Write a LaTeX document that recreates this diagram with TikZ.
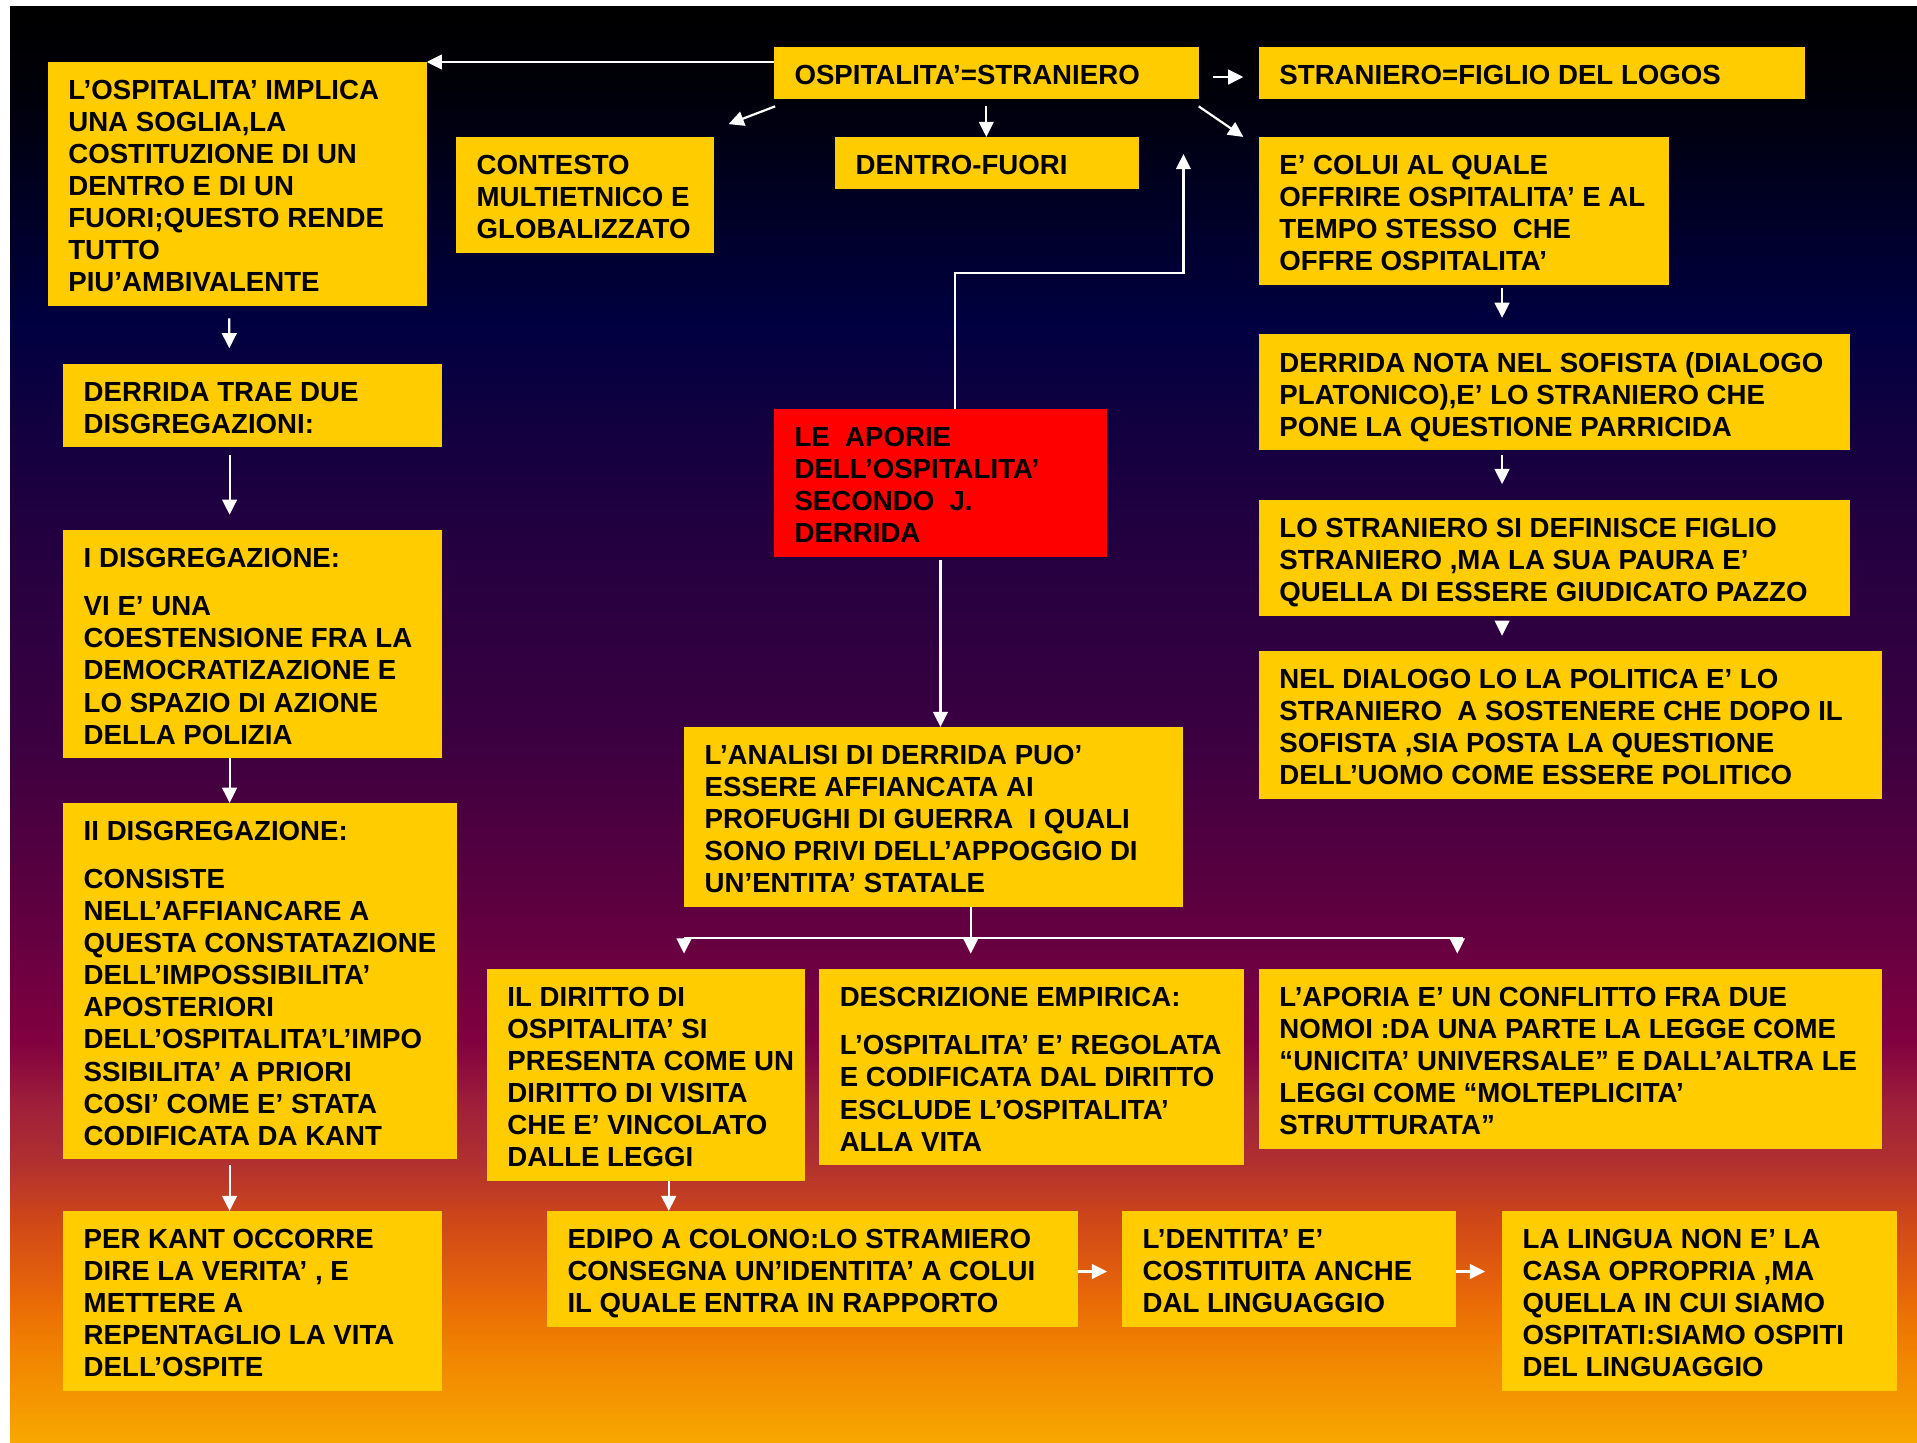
\documentclass[tikz,border=0pt]{standalone}
\usepackage{fontspec}
\setmainfont{Liberation Sans}
\usetikzlibrary{arrows.meta}
\definecolor{boxy}{HTML}{FFCC00}
\definecolor{boxr}{HTML}{FF0000}
\definecolor{g0}{HTML}{000000}
\definecolor{g1}{HTML}{000008}
\definecolor{g2}{HTML}{000040}
\definecolor{g3}{HTML}{200040}
\definecolor{g4}{HTML}{3A0040}
\definecolor{g5}{HTML}{600040}
\definecolor{g6}{HTML}{800040}
\definecolor{g7}{HTML}{A0203A}
\definecolor{g8}{HTML}{B03030}
\definecolor{g9}{HTML}{D04818}
\definecolor{g10}{HTML}{E86808}
\definecolor{g11}{HTML}{F08000}
\definecolor{g12}{HTML}{F8A800}
\tikzset{
  ybox/.style={fill=boxy, draw=none, anchor=north west, inner sep=0pt, outer sep=0pt},
  txt/.style={anchor=north west, inner sep=0pt, align=left, text=black,
    font=\bfseries\fontsize{11.3}{13.1}\selectfont},
  arr/.style={draw=white, line width=0.9pt, -{Triangle[length=6.2pt,width=6pt]}},
  wline/.style={draw=white, line width=0.9pt},
}
\newcommand\bx[6][boxy]{%
  \node[ybox, fill=#1, minimum width={(#5-#3)*0.5pt}, minimum height={(#6-#4)*0.5pt}] (#2) at (#3,#4) {};}
\newcommand\tx[2]{\node[txt] (#1-t) at ([shift={(16.5,14.5)}]#1.north west) {#2};}
\newcommand\seg[4]{\shade[top color=#3, bottom color=#4] (8.2,#1) rectangle (1568,#2);}
\begin{document}
\begin{tikzpicture}[x=0.5pt,y=-0.5pt]
\useasboundingbox (0,0) rectangle (1568,1180);
\fill[white] (0,0) rectangle (1568,1180);
% background gradient
\seg{5.7}{70.5}{g0}{g1}
\seg{70}{263.5}{g1}{g2}
\seg{263}{420.5}{g2}{g3}
\seg{420}{600.5}{g3}{g4}
\seg{600}{750.5}{g4}{g5}
\seg{750}{850.5}{g5}{g6}
\seg{850}{905.5}{g6}{g7}
\seg{905}{950.5}{g7}{g8}
\seg{950}{1000.5}{g8}{g9}
\seg{1000}{1060.5}{g9}{g10}
\seg{1060}{1100.5}{g10}{g11}
\seg{1100}{1180}{g11}{g12}

% boxes
\bx{ospstr}{633}{38.4}{980.5}{81}
\bx{figlio}{1029.6}{38.4}{1476}{81}
\bx{implica}{39}{50.7}{349}{250}
\bx{contesto}{373}{112}{584}{206.7}
\bx{dentro}{683}{112}{931.5}{154.5}
\bx{colui}{1029.6}{112}{1365}{232.9}
\bx{trae}{51.6}{297.7}{361.6}{366}
\bx[boxr]{aporie}{633}{334.8}{905.5}{455.3}
\bx{nota}{1029.6}{273}{1513}{367.8}
\bx{definisce}{1029.6}{409}{1513}{503.6}
\bx{disgrega}{51.6}{433.5}{361.6}{619.7}
\bx{dialogo}{1029.6}{532.5}{1539}{653.3}
\bx{analisi}{559.5}{594.6}{968}{741.6}
\bx{disgregb}{51.6}{656.7}{373.6}{948}
\bx{diritto}{398.2}{792.6}{658.1}{965.7}
\bx{descr}{670}{792.6}{1017.6}{952.6}
\bx{aporia}{1029.6}{792.6}{1539}{939.5}
\bx{kant}{51.6}{990.5}{361.6}{1137.5}
\bx{edipo}{447.3}{990.5}{881.4}{1085}
\bx{dentita}{917.7}{990.5}{1190.9}{1085}
\bx{lingua}{1228.6}{990.5}{1551.6}{1137.5}

% texts
\tx{ospstr}{OSPITALITA’=STRANIERO}
\tx{figlio}{STRANIERO=FIGLIO DEL LOGOS}
\tx{implica}{L’OSPITALITA’ IMPLICA\\UNA SOGLIA,LA\\COSTITUZIONE DI UN\\DENTRO E DI UN\\FUORI;QUESTO RENDE\\TUTTO\\PIU’AMBIVALENTE}
\tx{contesto}{CONTESTO\\MULTIETNICO E\\GLOBALIZZATO}
\tx{dentro}{DENTRO-FUORI}
\tx{colui}{E’ COLUI AL QUALE\\OFFRIRE OSPITALITA’ E AL\\TEMPO STESSO~ CHE\\OFFRE OSPITALITA’}
\tx{trae}{DERRIDA TRAE DUE\\DISGREGAZIONI:}
\tx{aporie}{LE~ APORIE\\DELL’OSPITALITA’\\SECONDO~ J.\\DERRIDA}
\tx{nota}{DERRIDA NOTA NEL SOFISTA (DIALOGO\\PLATONICO),E’ LO STRANIERO CHE\\PONE LA QUESTIONE PARRICIDA}
\tx{definisce}{LO STRANIERO SI DEFINISCE FIGLIO\\STRANIERO ,MA LA SUA PAURA E’\\QUELLA DI ESSERE GIUDICATO PAZZO}
\tx{disgrega}{I DISGREGAZIONE:\\[6.7pt]VI E’ UNA\\COESTENSIONE FRA LA\\DEMOCRATIZAZIONE E\\LO SPAZIO DI AZIONE\\DELLA POLIZIA}
\tx{dialogo}{NEL DIALOGO LO LA POLITICA E’ LO\\STRANIERO~ A SOSTENERE CHE DOPO IL\\SOFISTA ,SIA POSTA LA QUESTIONE\\DELL’UOMO COME ESSERE POLITICO}
\tx{analisi}{L’ANALISI DI DERRIDA PUO’\\ESSERE AFFIANCATA AI\\PROFUGHI DI GUERRA~ I QUALI\\SONO PRIVI DELL’APPOGGIO DI\\UN’ENTITA’ STATALE}
\tx{disgregb}{II DISGREGAZIONE:\\[6.7pt]CONSISTE\\NELL’AFFIANCARE A\\QUESTA CONSTATAZIONE\\DELL’IMPOSSIBILITA’\\APOSTERIORI\\DELL’OSPITALITA’L’IMPO\\SSIBILITA’ A PRIORI\\COSI’ COME E’ STATA\\CODIFICATA DA KANT}
\tx{diritto}{IL DIRITTO DI\\OSPITALITA’ SI\\PRESENTA COME UN\\DIRITTO DI VISITA\\CHE E’ VINCOLATO\\DALLE LEGGI}
\tx{descr}{DESCRIZIONE EMPIRICA:\\[6.7pt]L’OSPITALITA’ E’ REGOLATA\\E CODIFICATA DAL DIRITTO\\ESCLUDE L’OSPITALITA’\\ALLA VITA}
\tx{aporia}{L’APORIA E’ UN CONFLITTO FRA DUE\\NOMOI :DA UNA PARTE LA LEGGE COME\\“UNICITA’ UNIVERSALE” E DALL’ALTRA LE\\LEGGI COME “MOLTEPLICITA’\\STRUTTURATA”}
\tx{kant}{PER KANT OCCORRE\\DIRE LA VERITA’ , E\\METTERE A\\REPENTAGLIO LA VITA\\DELL’OSPITE}
\tx{edipo}{EDIPO A COLONO:LO STRAMIERO\\CONSEGNA UN’IDENTITA’ A COLUI\\IL QUALE ENTRA IN RAPPORTO}
\tx{dentita}{L’DENTITA’ E’\\COSTITUITA ANCHE\\DAL LINGUAGGIO}
\tx{lingua}{LA LINGUA NON E’ LA\\CASA OPROPRIA ,MA\\QUELLA IN CUI SIAMO\\OSPITATI:SIAMO OSPITI\\DEL LINGUAGGIO}

% free-end coordinates
\coordinate (upbend) at (968,223.6);
\coordinate (upend) at (968,126);
\coordinate (barL) at (559.5,767.5);
\coordinate (barM) at (794,767.5);
\coordinate (barR) at (1192,767.5);

% connectors
\draw[arr] (ospstr.west |- implica.north) -- (implica.north east);
\draw[arr] ([shift={(1,6)}]ospstr.south west) -- ([shift={(12,-10.5)}]contesto.north east);
\draw[arr] ([shift={(0,6)}]ospstr.south) -- (ospstr.south |- dentro.north);
\draw[arr] ([shift={(12,3.3)}]ospstr.east) -- ([shift={(-12.6,3.3)}]figlio.west);
\draw[arr] ([shift={(0,6)}]ospstr.south east) -- ([shift={(-12.6,0)}]colui.north west);
\draw[arr] ([shift={(12,0)}]aporie.north) |- (upbend) -- (upend);
\draw[arr] ([shift={(199,3)}]colui.south west) -- ([shift={(199,-13)}]nota.north west);
\draw[arr] ([shift={(199,4.2)}]nota.south west) -- ([shift={(199,-13)}]definisce.north west);
\draw[arr] ([shift={(199,4)}]definisce.south west) -- ([shift={(199,-12.5)}]dialogo.north west);
\draw[arr] ([shift={(148.5,10.4)}]implica.south west) -- ([shift={(136,-12.8)}]trae.north west);
\draw[arr] ([shift={(136.2,6)}]trae.south west) -- ([shift={(136.2,-12.5)}]disgrega.north west);
\draw[arr] ([shift={(136.2,0)}]disgrega.south west) -- ([shift={(136.2,0)}]disgregb.north west);
\draw[arr] ([shift={(136.2,5)}]disgregb.south west) -- ([shift={(136.2,0)}]kant.north west);
\draw[arr] ([shift={(0,2.7)}]aporie.south) -- (aporie.south |- analisi.north);
\draw[wline] (analisi.south -| barM) -- (barM);
\draw[wline] (barL) -- ([shift={(4.6,0)}]barR);
\draw[arr] (barL) -- ++(0,12.5);
\draw[arr] (barM) -- ++(0,12.5);
\draw[arr] (barR) -- ++(0,12.5);
\draw[arr] ([shift={(148.8,0)}]diritto.south west) -- ([shift={(99.7,0)}]edipo.north west);
\draw[arr] ([shift={(0,2.25)}]edipo.east) -- ([shift={(-12.2,2.25)}]dentita.west);
\draw[arr] ([shift={(0,2.25)}]dentita.east) -- ([shift={(-13.9,-24)}]lingua.west);
\end{tikzpicture}
\end{document}
